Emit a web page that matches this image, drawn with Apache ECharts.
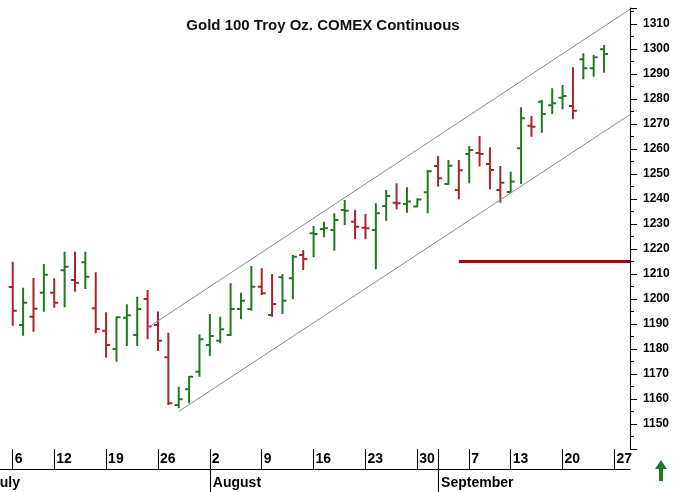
<!DOCTYPE html>
<html>
<head>
<meta charset="utf-8">
<script src="https://cdn.jsdelivr.net/npm/echarts@6/dist/echarts.min.js"></script>
<style>
html, body { margin: 0; padding: 0; background: #fff; }
#container { width: 698px; height: 492px; }
</style>
</head>
<body>
<div id="container"></div>
<script>
// trading days on the axis (first two and last two have no bar)
let dates = [
    '7/1','7/2','7/6','7/7','7/8','7/9','7/12','7/13','7/14','7/15','7/16',
    '7/19','7/20','7/21','7/22','7/23','7/26','7/27','7/28','7/29','7/30',
    '8/2','8/3','8/4','8/5','8/6','8/9','8/10','8/11','8/12','8/13',
    '8/16','8/17','8/18','8/19','8/20','8/23','8/24','8/25','8/26','8/27',
    '8/30','8/31','9/1','9/2','9/3','9/7','9/8','9/9','9/10',
    '9/13','9/14','9/15','9/16','9/17','9/20','9/21','9/22','9/23','9/24',
    '9/27','9/28'
];
let firstBar = 2;

let opens = [
    1204.8,1189.6,1192.9,1202.5,1202.5,1211.5,1207.6,1214.7,1196.3,1187.3,
    1180.0,1192.5,1185.6,1200.0,1189.6,1176.7,1157.6,1163.9,1170.9,1181.6,
    1183.3,1185.6,1196.0,1196.0,1204.9,1193.6,1208.7,1208.3,1217.6,1226.3,
    1228.0,1227.6,1235.6,1230.9,1228.5,1227.6,1237.2,1238.5,1238.0,1237.0,
    1242.7,1253.2,1246.0,1243.6,1258.0,1258.4,1254.0,1243.6,1242.8,1260.3,
    1269.3,1278.9,1277.5,1280.5,1277.2,1295.9,1292.3,1299.9
];
let highs = [
    1214.9,1204.5,1208.4,1214.0,1208.3,1218.9,1218.9,1218.9,1210.7,1194.7,
    1192.9,1197.9,1200.9,1203.6,1195.0,1186.5,1164.9,1169.2,1185.9,1194.0,
    1192.9,1206.3,1202.5,1213.2,1212.3,1210.0,1210.0,1217.6,1219.6,1229.2,
    1230.9,1234.3,1239.6,1235.6,1234.0,1238.3,1243.6,1246.3,1244.7,1240.3,
    1251.6,1257.2,1255.6,1255.6,1261.2,1265.2,1260.7,1253.2,1250.9,1276.7,
    1273.2,1279.6,1284.3,1285.6,1292.7,1298.3,1297.6,1301.6
];
let lows = [
    1189.3,1185.3,1186.9,1194.9,1196.5,1196.7,1202.9,1204.0,1186.3,1176.5,
    1174.9,1181.2,1181.2,1183.9,1179.2,1157.6,1156.3,1158.3,1168.9,1177.2,
    1182.3,1185.2,1191.9,1195.3,1201.6,1192.9,1194.0,1199.9,1211.6,1216.7,
    1224.7,1219.3,1229.6,1223.9,1223.9,1211.9,1231.3,1235.9,1234.5,1236.7,
    1234.3,1244.9,1245.6,1239.9,1246.3,1253.0,1243.9,1238.5,1242.6,1246.0,
    1264.9,1266.5,1274.0,1275.9,1271.9,1287.9,1288.9,1290.5
];
let closes = [
    1195.3,1198.5,1196.1,1209.7,1198.5,1212.9,1206.5,1208.9,1188.0,1181.6,
    1192.7,1193.5,1196.0,1189.0,1183.3,1158.3,1159.9,1168.9,1183.9,1185.2,
    1187.9,1196.0,1199.3,1204.9,1202.3,1198.0,1199.3,1216.9,1216.0,1226.0,
    1228.3,1231.6,1235.3,1228.9,1228.3,1234.3,1241.2,1238.3,1239.0,1239.8,
    1251.1,1248.3,1253.3,1251.5,1259.6,1258.0,1251.6,1246.5,1247.0,1272.3,
    1268.9,1274.0,1278.3,1281.2,1275.3,1292.3,1296.7,1298.0
];

// tick labels
let weekStarts = ['7/6','7/12','7/19','7/26','8/2','8/9','8/16','8/23','8/30','9/7','9/13','9/20','9/27'];
let monthStarts = ['7/1','8/2','9/1'];
let monthNames = ['July','August','September'];

// trend channel: start date, start price, price at right edge
let upperChannel = {start:'7/23', from:1188.5, to:1315.9};
let lowerChannel = {start:'7/28', from:1155.0, to:1273.8};
let supportLine = {start:'9/3', price:1215};

let upColor = '#1f7a22';
let downColor = '#a8242a';

let bars = [];
for (let i = 0; i < closes.length; i++) {
    let prev = i > 0 ? closes[i-1] : opens[i];
    let dir = closes[i] >= prev ? 1 : -1;
    bars.push([i + firstBar, opens[i], highs[i], lows[i], closes[i], dir]);
}

let lastEdge = dates.length - 0.5;
function lineData(ch){
    return [[dates.indexOf(ch.start), ch.from], [lastEdge, ch.to]];
}

let labelFont = {color:'#000', fontSize:14, fontWeight:'bold', fontFamily:'Liberation Sans'};

let chart = echarts.init(document.getElementById('container'));
chart.setOption({
    animation: false,
    backgroundColor: '#fff',
    title: {
        text: 'Gold 100 Troy Oz. COMEX Continuous',
        left: 318,
        textAlign: 'center',
        top: 13,
        textStyle: {fontSize:15, fontWeight:'bold', color:'#111', fontFamily:'Liberation Sans'}
    },
    grid: {left:-13.2, right:68, top:8, bottom:43, outerBoundsMode:'none'},
    xAxis: [{
        type: 'category',
        data: dates,
        boundaryGap: true,
        axisLine: {show:false, onZero:false},
        axisTick: {
            show: true, alignWithLabel: true, length: 20,
            interval: (i, v) => weekStarts.includes(v) || monthStarts.includes(v),
            lineStyle: {color:'#000'}
        },
        axisLabel: Object.assign({
            interval: (i, v) => weekStarts.includes(v),
            align: 'left', margin: 3, padding: [0,0,0,2],
            formatter: v => v.split('/')[1]
        }, labelFont),
        splitLine: {show:false}
    }, {
        type: 'category',
        data: dates,
        boundaryGap: true,
        position: 'bottom',
        offset: 20,
        axisLine: {show:true, onZero:false, lineStyle:{color:'#000'}},
        axisTick: {
            show: true, alignWithLabel: true, length: 23,
            interval: (i, v) => monthStarts.includes(v),
            lineStyle: {color:'#000'}
        },
        axisLabel: Object.assign({
            interval: (i, v) => monthStarts.includes(v),
            align: 'left', margin: 7,
            formatter: v => {
                let k = monthStarts.indexOf(v);
                return (k === 0 ? '{cut|' : '{m|') + monthNames[k] + '}';
            },
            rich: {
                cut: Object.assign({padding:[0,0,0,0]}, labelFont),
                m: Object.assign({padding:[0,0,0,3]}, labelFont)
            }
        }, labelFont),
        splitLine: {show:false}
    }, {
        type: 'value',
        show: false,
        min: -0.5,
        max: lastEdge
    }],
    yAxis: {
        type: 'value',
        position: 'right',
        min: 1140, max: 1316.4, interval: 10,
        axisLine: {show:true, onZero:false, lineStyle:{color:'#000'}},
        axisTick: {show:true, length:7, lineStyle:{color:'#000'}},
        minorTick: {show:true, splitNumber:2, length:4, lineStyle:{color:'#000'}},
        splitLine: {show:false},
        axisLabel: {
            margin: 13,
            color: '#000', fontSize: 12, fontWeight: 'bold', fontFamily: 'Liberation Sans',
            formatter: v => (v >= 1150 && v <= 1310 && v % 10 === 0) ? String(v) : ''
        }
    },
    series: [{
        type: 'line',
        xAxisIndex: 2,
        data: lineData(upperChannel),
        symbol: 'none',
        lineStyle: {color:'#8c8c8c', width:1}
    }, {
        type: 'line',
        xAxisIndex: 2,
        data: lineData(lowerChannel),
        symbol: 'none',
        lineStyle: {color:'#8c8c8c', width:1}
    }, {
        type: 'line',
        xAxisIndex: 2,
        data: [[dates.indexOf(supportLine.start), supportLine.price], [lastEdge, supportLine.price]],
        symbol: 'none',
        lineStyle: {color:'#8f1014', width:3}
    }, {
        type: 'custom',
        xAxisIndex: 0,
        data: bars,
        encode: {x:0, y:[1,2,3,4]},
        renderItem: function(params, api){
            let x = api.coord([api.value(0), api.value(1)])[0];
            let yO = api.coord([api.value(0), api.value(1)])[1];
            let yH = api.coord([api.value(0), api.value(2)])[1];
            let yL = api.coord([api.value(0), api.value(3)])[1];
            let yC = api.coord([api.value(0), api.value(4)])[1];
            let c = api.value(5) > 0 ? upColor : downColor;
            let st = {stroke:c, lineWidth:2};
            return {type:'group', children:[
                {type:'line', shape:{x1:x, y1:yH, x2:x, y2:yL}, style:st},
                {type:'line', shape:{x1:x-4, y1:yO, x2:x, y2:yO}, style:st},
                {type:'line', shape:{x1:x, y1:yC, x2:x+4, y2:yC}, style:st}
            ]};
        }
    }],
    graphic: [{
        type: 'polygon',
        shape: {points:[[655,469],[661,460],[667,469],[663,469],[663,481],[659,481],[659,469]]},
        style: {fill:'#1f7a22'}
    }]
});
</script>
</body>
</html>
